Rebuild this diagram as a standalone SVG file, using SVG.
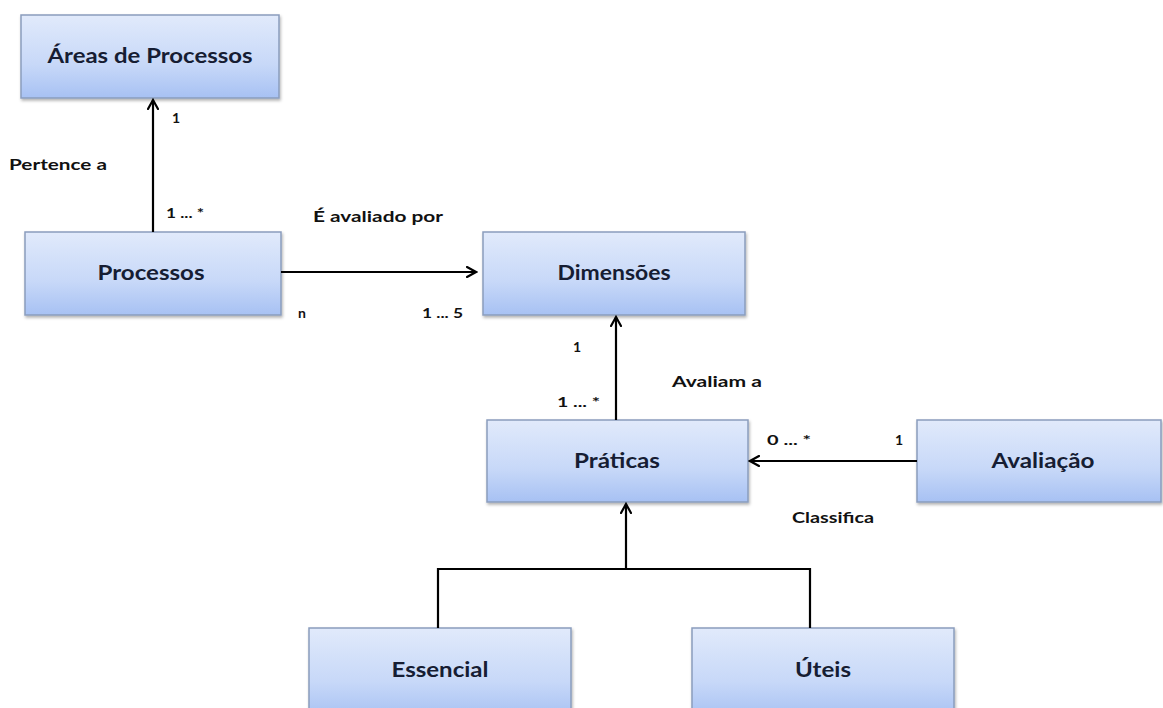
<svg xmlns="http://www.w3.org/2000/svg" width="1163" height="708" viewBox="0 0 1163 708">
  <defs>
    <linearGradient id="boxFill" x1="0" y1="0" x2="0" y2="1">
      <stop offset="0" stop-color="#e1eafb"/>
      <stop offset="0.6" stop-color="#c7d8f8"/>
      <stop offset="1" stop-color="#a7c1f3"/>
    </linearGradient>
    <filter id="shadow" x="-5%" y="-10%" width="110%" height="130%">
      <feDropShadow dx="1" dy="2" stdDeviation="1.5" flood-color="#000" flood-opacity="0.3"/>
    </filter>
    <marker id="openArrow" viewBox="0 0 12 12" refX="10" refY="6" markerWidth="12" markerHeight="12" markerUnits="userSpaceOnUse" orient="auto">
      <path d="M1,1 L10,6 L1,11" fill="none" stroke="#000" stroke-width="2.2" stroke-linecap="round" stroke-linejoin="miter"/>
    </marker>
  </defs>
  <style>
    .box { fill: url(#boxFill); stroke: #8a9dbd; stroke-width: 1.5; filter: url(#shadow); }
    .name { font-family: "Lato", "Liberation Sans", sans-serif; font-weight: 700; font-size: 21px; fill: #161d33; text-anchor: middle; }
    .lbl { font-family: "Lato", "Liberation Sans", sans-serif; font-weight: 700; font-size: 16px; fill: #111; }
    .num { font-size: 14px; }
    .conn { fill: none; stroke: #000; stroke-width: 2.2; }
  </style>
  <rect width="1163" height="708" fill="#fff"/>

  <g id="areas-de-processos">
    <rect class="box" x="21" y="15" width="258" height="83"/>
    <text class="name" x="150" y="63" textLength="205" lengthAdjust="spacingAndGlyphs">Áreas de Processos</text>
  </g>
  <g id="processos">
    <rect class="box" x="25" y="232" width="256" height="83"/>
    <text class="name" x="151" y="280" textLength="107" lengthAdjust="spacingAndGlyphs">Processos</text>
  </g>
  <g id="dimensoes">
    <rect class="box" x="483" y="232" width="262" height="83"/>
    <text class="name" x="614" y="280" textLength="113" lengthAdjust="spacingAndGlyphs">Dimensões</text>
  </g>
  <g id="praticas">
    <rect class="box" x="487" y="420" width="261" height="82"/>
    <text class="name" x="617" y="468" textLength="86" lengthAdjust="spacingAndGlyphs">Práticas</text>
  </g>
  <g id="avaliacao">
    <rect class="box" x="917" y="420" width="244" height="82"/>
    <text class="name" x="1043" y="468" textLength="103" lengthAdjust="spacingAndGlyphs">Avaliação</text>
  </g>
  <g id="essencial">
    <rect class="box" x="309" y="628" width="262" height="90"/>
    <text class="name" x="440" y="677" textLength="97" lengthAdjust="spacingAndGlyphs">Essencial</text>
  </g>
  <g id="uteis">
    <rect class="box" x="692" y="628" width="262" height="90"/>
    <text class="name" x="823" y="677" textLength="56" lengthAdjust="spacingAndGlyphs">Úteis</text>
  </g>

  <g id="connectors">
    <!-- Processos pertence a Áreas de Processos -->
    <line class="conn" x1="153" y1="232" x2="153" y2="100" marker-end="url(#openArrow)"/>
    <!-- Processos é avaliado por Dimensões -->
    <line class="conn" x1="281" y1="272" x2="476" y2="272" marker-end="url(#openArrow)"/>
    <!-- Práticas avaliam a Dimensões -->
    <line class="conn" x1="616" y1="420" x2="616" y2="317" marker-end="url(#openArrow)"/>
    <!-- Avaliação classifica Práticas -->
    <line class="conn" x1="917" y1="461" x2="750" y2="461" marker-end="url(#openArrow)"/>
    <!-- specialisation tree: Essencial / Úteis to Práticas -->
    <polyline class="conn" points="438,628 438,569 810,569 810,628"/>
    <line class="conn" x1="626" y1="569" x2="626" y2="504" marker-end="url(#openArrow)"/>
  </g>

  <g id="labels">
    <text class="lbl" x="9" y="170" textLength="98" lengthAdjust="spacingAndGlyphs">Pertence a</text>
    <text class="lbl num" x="172" y="123">1</text>
    <text class="lbl num" x="166" y="218" textLength="38" lengthAdjust="spacingAndGlyphs">1 ... *</text>
    <text class="lbl" x="313" y="222" textLength="130" lengthAdjust="spacingAndGlyphs">É avaliado por</text>
    <text class="lbl num" x="298" y="318">n</text>
    <text class="lbl num" x="422" y="318" textLength="41" lengthAdjust="spacingAndGlyphs">1 ... 5</text>
    <text class="lbl num" x="573" y="352">1</text>
    <text class="lbl num" x="557" y="407" textLength="43" lengthAdjust="spacingAndGlyphs">1 ... *</text>
    <text class="lbl" x="672" y="387" textLength="90" lengthAdjust="spacingAndGlyphs">Avaliam a</text>
    <text class="lbl num" x="767" y="445" textLength="44" lengthAdjust="spacingAndGlyphs">0 ... *</text>
    <text class="lbl num" x="895" y="445">1</text>
    <text class="lbl" x="792" y="523" textLength="82" lengthAdjust="spacingAndGlyphs">Classifica</text>
  </g>
</svg>
